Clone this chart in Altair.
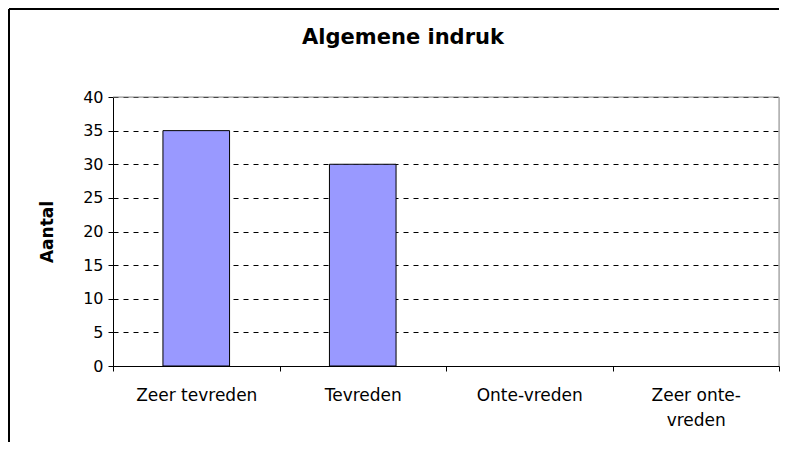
import altair as alt
import pandas as pd

categories = ["Zeer tevreden", "Tevreden", "Onte-vreden", "Zeer onte-vreden"]
counts = [35, 30, 0, 0]
y_ticks = [0, 5, 10, 15, 20, 25, 30, 35, 40]
title_text = ["Algemene indruk"]

df = pd.DataFrame({"categorie": categories, "aantal": counts})

W, H = 666, 269
FONT = "DejaVu Sans"

bars = alt.Chart(df).mark_bar(
    color="#9999FF", stroke="black", strokeWidth=1, width=alt.RelativeBandSize(0.4)
).encode(
    x=alt.X(
        "categorie:N",
        sort=categories,
        scale=alt.Scale(paddingInner=0, paddingOuter=0),
        axis=alt.Axis(
            title=None, labelAngle=0, tickBand="extent", tickSize=5,
            tickColor="black", domainColor="black", labelColor="black",
            labelFont=FONT, labelFontSize=17, labelPadding=16, labelLineHeight=25,
            labelExpr="datum.label == 'Zeer onte-vreden' ? ['Zeer onte-', 'vreden'] : datum.label",
        ),
    ),
    y=alt.Y(
        "aantal:Q",
        scale=alt.Scale(domain=[0, 40], nice=False),
        axis=alt.Axis(
            values=y_ticks, title="Aantal", grid=True, gridDash=[5, 5],
            gridColor="black", gridWidth=1, tickSize=5, tickColor="black",
            domainColor="black", labelColor="black", labelFont=FONT,
            labelFontSize=16, labelPadding=5,
            titleFont=FONT, titleFontSize=17, titleFontWeight="bold",
            titleColor="black", titleX=-66, titleY=H / 2, titleBaseline="middle",
        ),
    ),
    strokeOpacity=alt.condition("datum.aantal > 0", alt.value(1), alt.value(0)),
)

one = pd.DataFrame({"k": [0]})
tdf = pd.DataFrame({"t": title_text})

title = alt.Chart(tdf).mark_text(
    font=FONT, fontSize=21, fontWeight="bold", color="black",
    align="center", baseline="middle",
).encode(text="t:N", x=alt.value(290), y=alt.value(-59))

top_border = alt.Chart(one).mark_rule(color="#8c8c8c", strokeWidth=1).encode(
    x=alt.value(0), x2=alt.value(W), y=alt.value(0), y2=alt.value(0)
)
right_border = alt.Chart(one).mark_rule(color="#8c8c8c", strokeWidth=1).encode(
    x=alt.value(W), x2=alt.value(W), y=alt.value(0), y2=alt.value(H)
)
frame_top = alt.Chart(one).mark_rule(color="black", strokeWidth=2).encode(
    x=alt.value(-104), x2=alt.value(W), y=alt.value(-88), y2=alt.value(-88)
)
frame_left = alt.Chart(one).mark_rule(color="black", strokeWidth=2).encode(
    x=alt.value(-104), x2=alt.value(-104), y=alt.value(-88), y2=alt.value(H + 80)
)

chart = alt.layer(bars, top_border, right_border, frame_top, frame_left, title).properties(
    width=W,
    height=H,
    autosize=alt.AutoSizeParams(type="none"),
    padding={"left": 105, "top": 89, "right": 1, "bottom": 76},
).configure_view(stroke=None).configure(background="white")

chart.save("out.html", embed_options={"renderer": "svg", "actions": False})
